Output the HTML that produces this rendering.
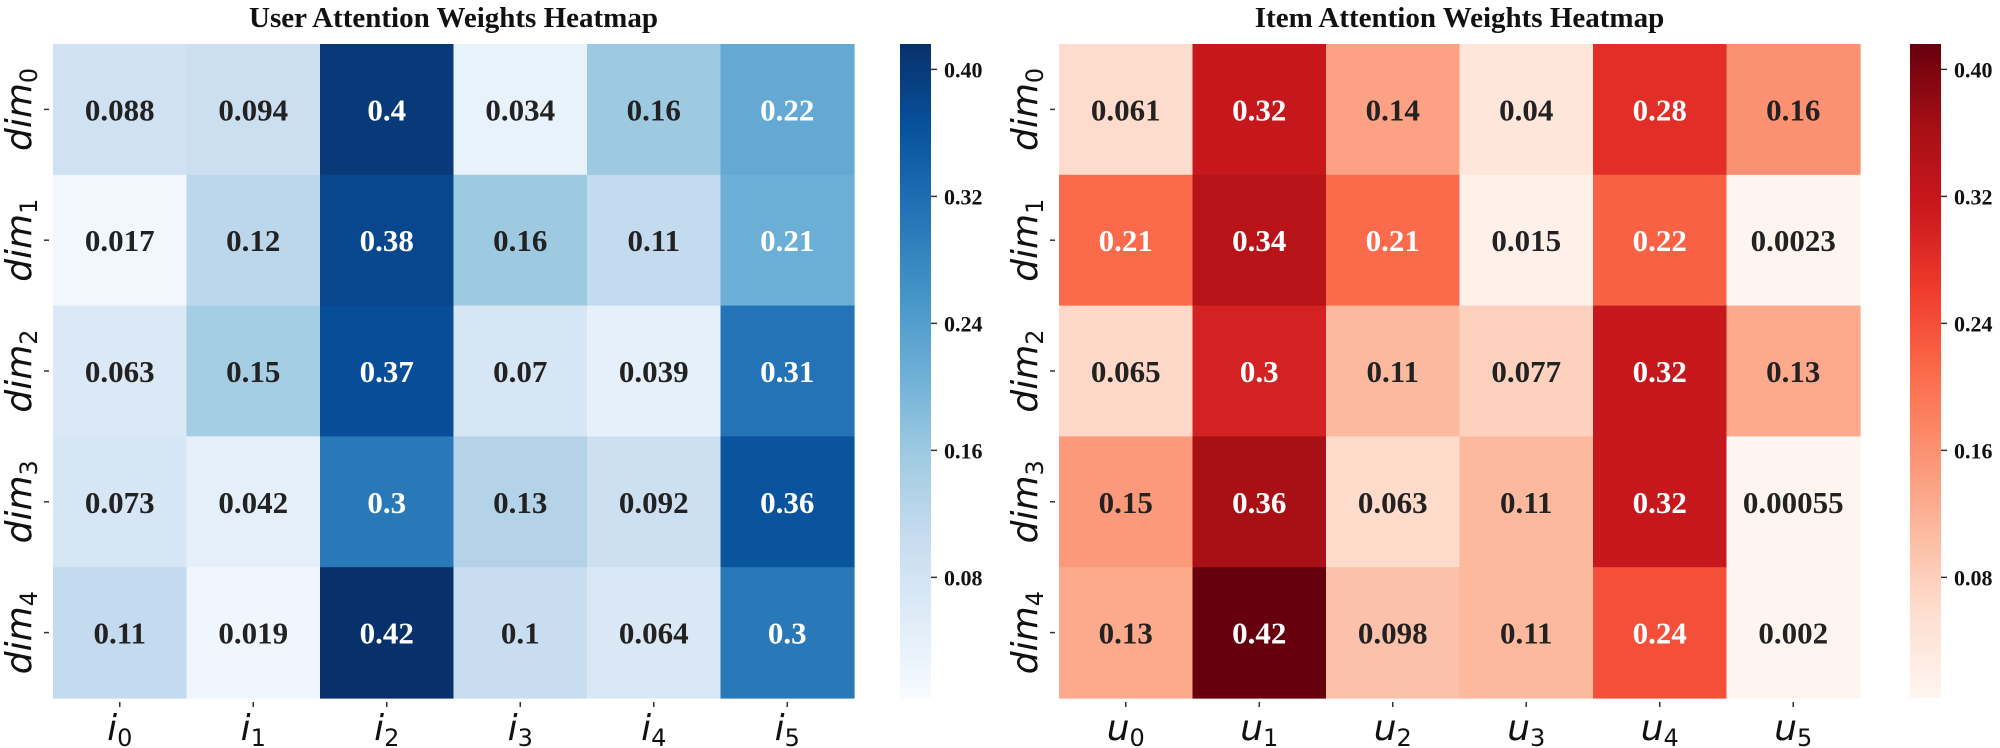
<!DOCTYPE html>
<html><head><meta charset="utf-8"><style>
html,body{margin:0;padding:0;background:#fff;width:2000px;height:748px;overflow:hidden}
svg text{font-family:"Liberation Serif",serif}
.ann{font-weight:bold;font-size:31px}
.tk{font-family:"DejaVu Sans","Liberation Sans",sans-serif!important;font-style:italic;font-size:36px;fill:#111}
.sub{font-size:24px;font-style:normal}
.cb{font-weight:bold;font-size:22px;fill:#111}
.title{font-weight:bold;font-size:29px;fill:#111}
</style></head><body>
<svg id="svg" width="2000" height="748" xmlns="http://www.w3.org/2000/svg"></svg>
<script>
const userValues = [
 [0.088,0.094,0.4,0.034,0.16,0.22],
 [0.017,0.12,0.38,0.16,0.11,0.21],
 [0.063,0.15,0.37,0.07,0.039,0.31],
 [0.073,0.042,0.3,0.13,0.092,0.36],
 [0.11,0.019,0.42,0.1,0.064,0.3]];
const itemValues = [
 [0.061,0.32,0.14,0.04,0.28,0.16],
 [0.21,0.34,0.21,0.015,0.22,0.0023],
 [0.065,0.3,0.11,0.077,0.32,0.13],
 [0.15,0.36,0.063,0.11,0.32,0.00055],
 [0.13,0.42,0.098,0.11,0.24,0.002]];
const userLabels = ["0.088","0.094","0.4","0.034","0.16","0.22","0.017","0.12","0.38","0.16","0.11","0.21","0.063","0.15","0.37","0.07","0.039","0.31","0.073","0.042","0.3","0.13","0.092","0.36","0.11","0.019","0.42","0.1","0.064","0.3"];
const itemLabels = ["0.061","0.32","0.14","0.04","0.28","0.16","0.21","0.34","0.21","0.015","0.22","0.0023","0.065","0.3","0.11","0.077","0.32","0.13","0.15","0.36","0.063","0.11","0.32","0.00055","0.13","0.42","0.098","0.11","0.24","0.002"];
const rowLabels = ["0","1","2","3","4"];
const userCols = ["0","1","2","3","4","5"];
const itemCols = ["0","1","2","3","4","5"];
const cbTicks = [0.08,0.16,0.24,0.32,0.40];
const cbTickLabels = ["0.08","0.16","0.24","0.32","0.40"];

const BLUES=['#f7fbff','#deebf7','#c6dbef','#9ecae1','#6baed6','#4292c6','#2171b5','#08519c','#08306b'];
const REDS=['#fff5f0','#fee0d2','#fcbba1','#fc9272','#fb6a4a','#ef3b2c','#cb181d','#a50f15','#67000d'];
const VMIN=0.004, VMAX=0.416;
function hex(h){return [1,3,5].map(i=>parseInt(h.substr(i,2),16));}
function cmap(stops,t){t=Math.max(0,Math.min(1,t));const p=t*(stops.length-1);const i=Math.min(stops.length-2,Math.floor(p));const f=p-i;const a=hex(stops[i]),b=hex(stops[i+1]);return a.map((v,k)=>Math.round(v+(b[k]-v)*f));}
function lum(c){const l=c.map(v=>{v/=255;return v<=0.03928?v/12.92:Math.pow((v+0.055)/1.055,2.4)});return 0.2126*l[0]+0.7152*l[1]+0.0722*l[2];}
const NS="http://www.w3.org/2000/svg";
const svg=document.getElementById('svg');
function el(tag,attrs,parent,txt){const e=document.createElementNS(NS,tag);for(const k in attrs)e.setAttribute(k,attrs[k]);if(txt!==undefined)e.textContent=txt;(parent||svg).appendChild(e);return e;}

function heatmap(name,vals,labels,cols,colLetter,stops,x0,title,cbx,gid){
  const y0=44,W=801,H=654,nr=vals.length,nc=vals[0].length,cw=W/nc,rh=H/nr;
  const xs=j=>x0+j*cw, ys=i=>y0+i*rh;
  const g=el('g',{},svg);
  
  
  const t=el('text',{x:x0+W/2,y:27,'text-anchor':'middle',class:'title'},g,title);
  
  
  for(let i=0;i<nr;i++)for(let j=0;j<nc;j++){
    const v=vals[i][j];const c=cmap(stops,(v-VMIN)/(VMAX-VMIN));
    const r=el('rect',{x:xs(j),y:ys(i),width:cw+0.6,height:rh+0.6,fill:`rgb(${c})`},g);
    
    
    const tx=el('text',{x:xs(j)+cw/2,y:ys(i)+rh/2+11,'text-anchor':'middle',class:'ann',fill:lum(c)>0.408?'#222':'#fff'},g,labels[i*nc+j]);
    
    
  }
  for(let i=0;i<nr;i++){
    const cy=ys(i)+rh/2;
    el('line',{x1:x0-9,x2:x0-4,y1:cy,y2:cy,stroke:'#333','stroke-width':1.5},g);
    const lt=el('text',{transform:`translate(${x0-22},${cy}) rotate(-90)`,'text-anchor':'middle',class:'tk'},g);
    
    
    lt.textContent='dim';
    el('tspan',{class:'sub',dy:6},lt,rowLabels[i]);
  }
  for(let j=0;j<nc;j++){
    const cx=xs(j)+cw/2;
    el('line',{x1:cx,x2:cx,y1:y0+H+4,y2:y0+H+9,stroke:'#333','stroke-width':1.5},g);
    const lt=el('text',{x:cx,y:740,'text-anchor':'middle',class:'tk'},g);
    
    
    lt.textContent=colLetter;
    el('tspan',{class:'sub',dy:6},lt,cols[j]);
  }
  const defs=el('defs',{},g);
  const lg=el('linearGradient',{id:gid,x1:0,y1:1,x2:0,y2:0},defs);
  stops.forEach((s,k)=>el('stop',{offset:k/(stops.length-1),'stop-color':s},lg));
  const cb=el('rect',{x:cbx,y:y0,width:31,height:H,fill:`url(#${gid})`},g);
  
  
  const cy=v=>y0+H-(v-VMIN)/(VMAX-VMIN)*H;
  cbTicks.forEach((v,k)=>{
    el('line',{x1:cbx+31,x2:cbx+37,y1:cy(v),y2:cy(v),stroke:'#333','stroke-width':1.5},g);
    const tt=el('text',{x:cbx+44,y:cy(v)+8,class:'cb'},g,cbTickLabels[k]);
    
    
  });
}
heatmap('user-heatmap',userValues,userLabels,userCols,'i',BLUES,53,'User Attention Weights Heatmap',900,'gb');
heatmap('item-heatmap',itemValues,itemLabels,itemCols,'u',REDS,1059,'Item Attention Weights Heatmap',1910,'gr');
</script>
</body></html>
